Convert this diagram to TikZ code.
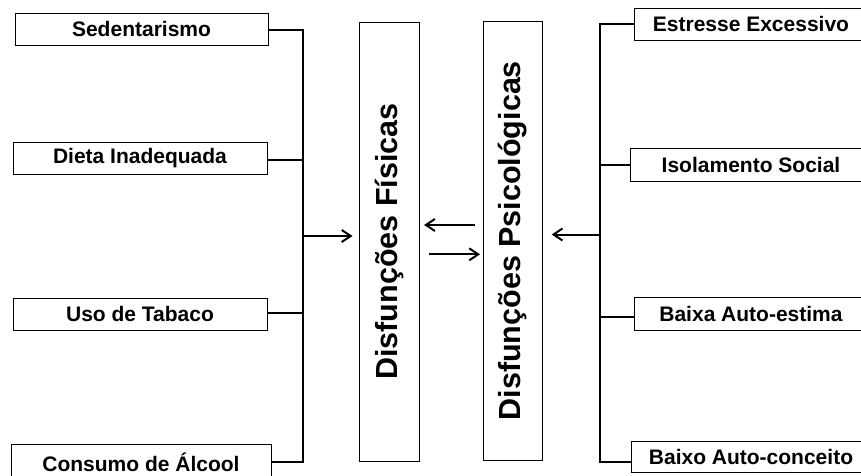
\documentclass[tikz,border=0pt]{standalone}
\usepackage{fontspec}
\setmainfont{Liberation Sans}
\usetikzlibrary{arrows.meta}
\begin{document}
\begin{tikzpicture}[x=1pt,y=-1pt,
  cause/.style={draw=black,line width=0.9pt,fill=white,inner sep=0pt,
    minimum height=32pt,font=\fontsize{21}{24}\selectfont\bfseries},
  core/.style={draw=black,line width=0.9pt,inner sep=0pt,
    minimum width=59pt,minimum height=439pt,
    font=\fontsize{30.5}{36}\selectfont\bfseries},
  link/.style={line width=2.4pt,line join=miter},
  arr/.style={line width=2pt,-{Straight Barb[length=9pt,width=12pt]}}]

\useasboundingbox (0,0) rectangle (861,475);
\clip (0,0) rectangle (861,475);

% left-hand factors
\node[cause,minimum width=253pt] (s1) at (141.5,29) {Sedentarismo};
\node[cause,minimum width=254pt] (s2) at (140,158) {Dieta Inadequada};
\node[cause,minimum width=254pt] (s3) at (140,314) {Uso de Tabaco};
\node[cause,minimum width=260pt,minimum height=36pt] (s4) at (141,462) {Consumo de Álcool};

% right-hand factors
\node[cause,minimum width=234pt] (p1) at (751,24) {Estresse Excessivo};
\node[cause,minimum width=242pt,minimum height=33pt] (p2) at (751,164.5) {Isolamento Social};
\node[cause,minimum width=234pt,minimum height=33pt] (p3) at (751,313.5) {Baixa Auto-estima};
\node[cause,minimum width=240pt,minimum height=31pt] (p4) at (751,457) {Baixo Auto-conceito};

% central boxes
\node[core,minimum width=60pt] (fis) at (389,241.5) {\rotatebox{90}{Disfunções Físicas}};
\node[core,minimum height=438.7pt] (psic) at (513,240.7) {\rotatebox{90}{Disfunções Psicológicas}};

% joints of the two brackets
\coordinate (l1) at (303,30);
\coordinate (l2) at (303,160);
\coordinate (l3) at (303,313);
\coordinate (l4) at (303,462);
\coordinate (lm) at (303,236);
\coordinate (r1) at (600,24);
\coordinate (r2) at (600,165);
\coordinate (r3) at (600,317);
\coordinate (r4) at (600,462);
\coordinate (rm) at (600,234.5);
\coordinate (m1) at (0,225);
\coordinate (m2) at (0,254.3);

% left bracket
\draw[link] (s1.east |- l1) -- (l1) -- (l4) -- (s4.east |- l4);
\draw[link] (s2.east |- l2) -- (l2);
\draw[link] (s3.east |- l3) -- (l3);
\draw[arr,shorten >=6pt] (lm) -- (fis.west |- lm);

% right bracket
\draw[link] (p1.west |- r1) -- (r1) -- (r4) -- (p4.west |- r4);
\draw[link] (p2.west |- r2) -- (r2);
\draw[link] (p3.west |- r3) -- (r3);
\draw[arr,shorten >=8.7pt] (rm) -- (psic.east |- rm);

% mutual influence
\draw[arr,shorten <=8pt,shorten >=4.6pt] (psic.west |- m1) -- (fis.east |- m1);
\draw[arr,shorten <=9.6pt,shorten >=3pt] (fis.east |- m2) -- (psic.west |- m2);
\end{tikzpicture}
\end{document}
